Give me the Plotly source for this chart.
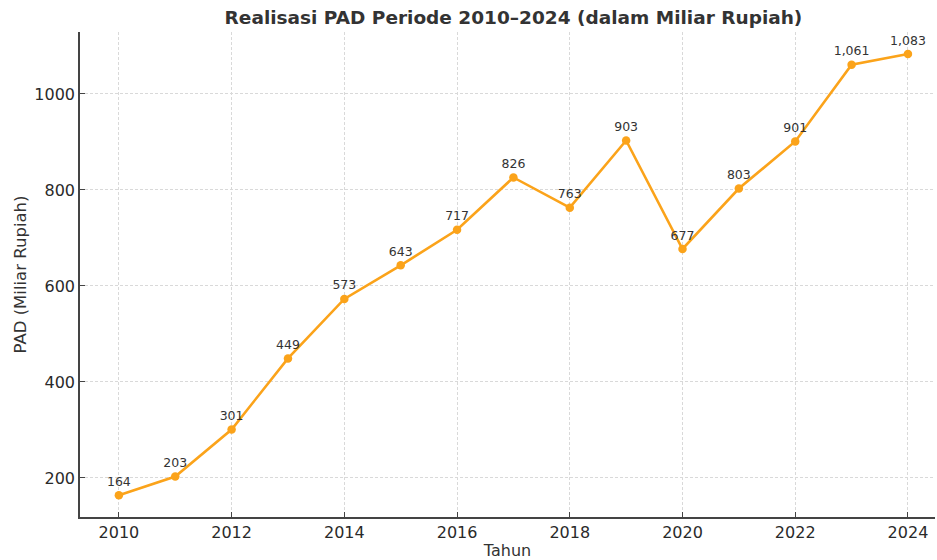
import plotly.graph_objects as go

years = [2010, 2011, 2012, 2013, 2014, 2015, 2016, 2017, 2018, 2019, 2020, 2021, 2022, 2023, 2024]
pad = [164, 203, 301, 449, 573, 643, 717, 826, 763, 903, 677, 803, 901, 1061, 1083]
labels = [f"{v:,}" for v in pad]
x_ticks = [2010, 2012, 2014, 2016, 2018, 2020, 2022, 2024]
y_ticks = [200, 400, 600, 800, 1000]

font = "DejaVu Sans"
fig = go.Figure()
fig.add_trace(go.Scatter(
    x=years, y=pad, mode="lines+markers+text",
    text=labels, textposition="top center",
    textfont=dict(family=font, size=12.5, color="#333333"),
    line=dict(color="#FBA31A", width=2.6),
    marker=dict(color="#FBA31A", size=8.5),
    cliponaxis=False,
    showlegend=False,
))

fig.update_layout(
    width=937, height=560,
    margin=dict(l=80, r=2, t=32, b=43),
    paper_bgcolor="white", plot_bgcolor="white",
    font=dict(family=font, color="#333333"),
    title=dict(text="<b>Realisasi PAD Periode 2010–2024 (dalam Miliar Rupiah)</b>",
               x=0.548, xanchor="center", y=0.968, yanchor="middle",
               font=dict(family=font, size=18.5, color="#333333")),
)
fig.update_xaxes(
    range=[2009.31, 2024.48], tickvals=x_ticks,
    tickfont=dict(family=font, size=16, color="#2a2a2a"),
    title=dict(text="Tahun", font=dict(family=font, size=16, color="#333333"), standoff=4),
    showline=True, linecolor="#444444", linewidth=1.6, mirror=False,
    ticks="inside", ticklen=5, tickcolor="#444444",
    showgrid=True, gridcolor="#d9d9d9", griddash="3px,2px", gridwidth=1,
    zeroline=False,
)
fig.update_yaxes(
    range=[118.75, 1129], tickvals=y_ticks,
    tickfont=dict(family=font, size=16, color="#2a2a2a"),
    title=dict(text="PAD (Miliar Rupiah)", font=dict(family=font, size=16.5, color="#333333"), standoff=4),
    showline=True, linecolor="#444444", linewidth=1.6, mirror=False,
    ticks="inside", ticklen=5, tickcolor="#444444",
    showgrid=True, gridcolor="#d9d9d9", griddash="3px,2px", gridwidth=1,
    zeroline=False,
)
fig.write_html("out.html", config={"displayModeBar": False},
               post_script="document.body.style.margin='0';")
